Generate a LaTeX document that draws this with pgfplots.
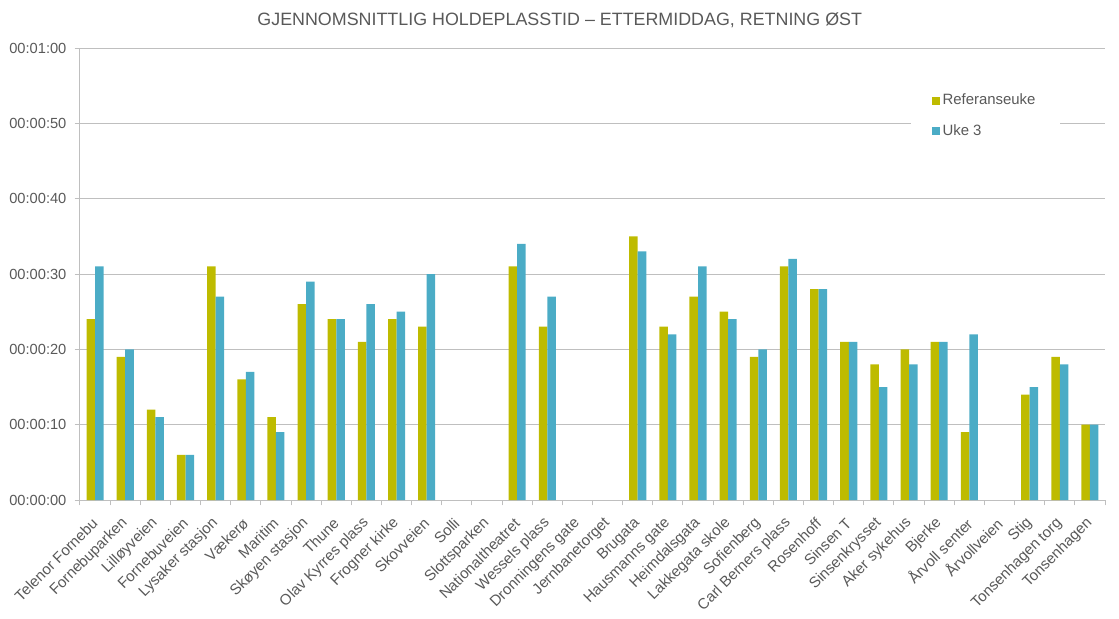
\documentclass[border=0pt]{standalone}
\usepackage{pgfplots}
\pgfplotsset{compat=1.18}
\usepackage{pgfplotstable}
\usepackage{fontspec}
\setmainfont{Liberation Sans}
\definecolor{refc}{RGB}{190,187,0}
\definecolor{ukec}{RGB}{75,172,198}
\definecolor{txt}{RGB}{89,89,89}
\definecolor{gridc}{RGB}{191,191,191}

\pgfplotstableread{
x ref uke
0 24 31
1 19 20
2 12 11
3 6 6
4 31 27
5 16 17
6 11 9
7 26 29
8 24 24
9 21 26
10 24 25
11 23 30
14 31 34
15 23 27
18 35 33
19 23 22
20 27 31
21 25 24
22 19 20
23 31 32
24 28 28
25 21 21
26 18 15
27 20 18
28 21 21
29 9 22
31 14 15
32 19 18
33 10 10
}\data

\begin{document}
\begin{tikzpicture}
\useasboundingbox (-60pt,-88.5pt) rectangle (779.25pt,375pt);
\begin{axis}[
  at={(0,0)}, anchor=south west,
  scale only axis, width=768.75pt, height=339pt,
  clip=false,
  ymin=0, ymax=60, ytick={0,10,...,60},
  yticklabels={00:00:00,00:00:10,00:00:20,00:00:30,00:00:40,00:00:50,00:01:00},
  xmin=-0.5, xmax=33.5, xtick={0,...,33},
  xticklabels={Telenor Fornebu,Fornebuparken,Lilløyveien,Fornebuveien,Lysaker stasjon,Vækerø,Maritim,Skøyen stasjon,Thune,Olav Kyrres plass,Frogner kirke,Skovveien,Solli,Slottsparken,Nationaltheatret,Wessels plass,Dronningens gate,Jernbanetorget,Brugata,Hausmanns gate,Heimdalsgata,Lakkegata skole,Sofienberg,Carl Berners plass,Rosenhoff,Sinsen T,Sinsenkrysset,Aker sykehus,Bjerke,Årvoll senter,Årvollveien,Stig,Tonsenhagen torg,Tonsenhagen},
  minor xtick={-0.5,0.5,...,33.5},
  major x tick style={draw=none},
  minor x tick style={gridc, line width=0.75pt},
  major y tick style={gridc, line width=0.75pt},
  axis x line*=bottom, axis y line*=left,
  axis line style={gridc, line width=0.75pt, -},
  ymajorgrids, grid style={gridc, line width=0.75pt},
  tick align=outside, major tick length=4pt, minor tick length=4pt,
  x tick label style={yshift=-11.5pt, xshift=0pt, rotate=45, anchor=east, inner sep=0pt, font=\fontsize{11.3}{14}\selectfont, text=txt},
  y tick label style={font=\fontsize{11}{13}\selectfont, text=txt, inner sep=2pt, xshift=-4pt},
  /pgf/number format/assume math mode=true,
  ybar=0pt, bar width=6.4pt,
  legend cell align=left,
  legend image code/.code={\fill[#1] (0pt,-3pt) rectangle (6pt,3pt);},
  legend style={at={(rel axis cs:0.81,0.931)}, anchor=north west, draw=none, fill=white,
    font=\fontsize{11.2}{13}\selectfont, text=txt, row sep=9pt, inner xsep=16pt, inner ysep=9pt,
    /tikz/every even column/.append style={column sep=4pt}},
]
\addplot[fill=refc, draw=none] table[x=x, y=ref] {\data};
\addplot[fill=ukec, draw=none] table[x=x, y=uke] {\data};
\legend{Referanseuke,Uke 3}
\node[font=\fontsize{13.4}{15}\selectfont, text=txt] at (rel axis cs:0.468,1) [yshift=21pt] {GJENNOMSNITTLIG HOLDEPLASSTID – ETTERMIDDAG, RETNING ØST};
\end{axis}
\end{tikzpicture}
\end{document}
